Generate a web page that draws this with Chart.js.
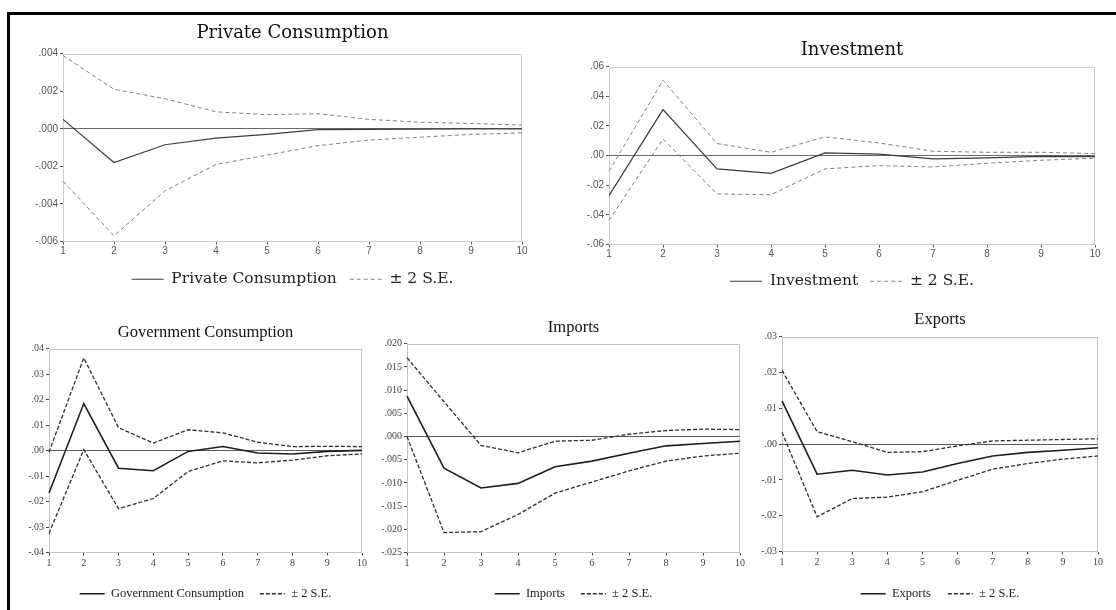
<!DOCTYPE html>
<html>
<head>
<meta charset="utf-8">
<title>Impulse responses</title>
<script src="https://cdn.jsdelivr.net/npm/chart.js@4.4.1/dist/chart.umd.min.js"></script>
<style>
  body { margin: 0; background: #fff; }
  #page { position: relative; width: 1116px; height: 610px; overflow: hidden; background: #fff; }
  #frame { position: absolute; left: 7px; top: 12px; right: 0; bottom: 0;
           border-top: 3px solid #000; border-left: 3px solid #000; }
  canvas { position: absolute; }
</style>
</head>
<body>
<div id="page">
  <div id="frame"></div>
  <canvas id="pc" width="528" height="281" style="left:12px;top:16px"></canvas>
  <canvas id="inv" width="556" height="269" style="left:560px;top:30px"></canvas>
  <canvas id="gov" width="364" height="300" style="left:12px;top:310px"></canvas>
  <canvas id="imp" width="380" height="304" style="left:376px;top:306px"></canvas>
  <canvas id="exp" width="360" height="310" style="left:756px;top:300px"></canvas>
</div>
<script>
const horizons = ['1', '2', '3', '4', '5', '6', '7', '8', '9', '10'];

// Private Consumption
const pcResponse = [0.0005, -0.0018, -0.00085, -0.0005, -0.0003, -0.00005, -0.00003, -0.00002, -0.00001, -0.00001];
const pcUpper = [0.0039, 0.0021, 0.0016, 0.0009, 0.00075, 0.0008, 0.0005, 0.00035, 0.00028, 0.0002];
const pcLower = [-0.0028, -0.0057, -0.0033, -0.0019, -0.0014, -0.0009, -0.0006, -0.00045, -0.0003, -0.00022];
const pcTicks = [-0.006, -0.004, -0.002, 0, 0.002, 0.004];

// Investment
const invResponse = [-0.027, 0.031, -0.009, -0.012, 0.0018, 0.001, -0.0023, -0.0016, -0.0005, -0.0007];
const invUpper = [-0.0106, 0.0508, 0.0081, 0.0022, 0.0126, 0.0085, 0.0029, 0.0022, 0.0022, 0.0013];
const invLower = [-0.0437, 0.0112, -0.0259, -0.0264, -0.009, -0.0068, -0.0077, -0.0052, -0.0032, -0.0018];
const invTicks = [-0.06, -0.04, -0.02, 0, 0.02, 0.04, 0.06];

// Government Consumption
const govResponse = [-0.0166, 0.0185, -0.0069, -0.0079, -0.0003, 0.0016, -0.0009, -0.0013, -0.0003, 0.0001];
const govUpper = [-0.0006, 0.0364, 0.009, 0.003, 0.0082, 0.007, 0.0033, 0.0016, 0.0017, 0.0016];
const govLower = [-0.0325, 0.0004, -0.0228, -0.0188, -0.0082, -0.004, -0.0048, -0.0037, -0.002, -0.0013];
const govTicks = [-0.04, -0.03, -0.02, -0.01, 0, 0.01, 0.02, 0.03, 0.04];

// Imports
const impResponse = [0.0087, -0.0068, -0.0111, -0.0101, -0.0065, -0.0053, -0.0036, -0.002, -0.0015, -0.001];
const impUpper = [0.017, 0.0075, -0.0019, -0.0035, -0.001, -0.0008, 0.0005, 0.0013, 0.0016, 0.0015];
const impLower = [0.0, -0.0207, -0.0205, -0.0168, -0.0122, -0.0098, -0.0074, -0.0053, -0.0042, -0.0036];
const impTicks = [-0.025, -0.02, -0.015, -0.01, -0.005, 0, 0.005, 0.01, 0.015, 0.02];

// Exports
const expResponse = [0.0121, -0.0084, -0.0073, -0.0086, -0.0078, -0.0054, -0.0033, -0.0023, -0.0017, -0.001];
const expUpper = [0.0206, 0.0035, 0.0007, -0.0023, -0.0021, -0.0005, 0.0009, 0.0011, 0.0013, 0.0015];
const expLower = [0.0033, -0.0203, -0.0152, -0.0148, -0.0133, -0.0101, -0.007, -0.0054, -0.0042, -0.0033];
const expTicks = [-0.03, -0.02, -0.01, 0, 0.01, 0.02, 0.03];

const topLook = {
    titleFont: { family: 'DejaVu Serif', size: 18 },
    legendFont: { family: 'DejaVu Serif', size: 15.5 },
    tickFont: { family: 'Liberation Sans', size: 10 },
    textColor: '#222',
    tickColor: '#555',
    lineColor: '#3c3c3c', lineWidth: 1.2,
    bandColor: '#808080', bandWidth: 1, bandDash: [4, 3],
    zeroColor: '#6a6a6a', frameColor: '#9a9a9a',
    sampleWidth: 32
};

const bottomLook = {
    titleFont: { family: 'Liberation Serif', size: 16.5 },
    legendFont: { family: 'Liberation Serif', size: 12.5 },
    tickFont: { family: 'Liberation Serif', size: 10 },
    textColor: '#222',
    tickColor: '#444',
    lineColor: '#1e1e1e', lineWidth: 1.6,
    bandColor: '#2e2e2e', bandWidth: 1.3, bandDash: [4, 2],
    zeroColor: '#5a5a5a', frameColor: '#8a8a8a',
    sampleWidth: 25
};

// dotted box round the plot area
const plotFrame = {
    id: 'plotFrame',
    beforeDatasetsDraw(chart, args, options) {
        const { ctx, chartArea: a } = chart;
        ctx.save();
        ctx.strokeStyle = options.color;
        ctx.lineWidth = 1;
        ctx.setLineDash([1, 1]);
        ctx.strokeRect(Math.round(a.left) + 0.5, Math.round(a.top) + 0.5,
            Math.round(a.width) - 1, Math.round(a.height) - 1);
        ctx.restore();
    }
};

function shortDecimal(v, d) {
    const s = Math.abs(v).toFixed(d).replace(/^0/, '');
    return (v < 0 ? '-' : '') + s;
}

function makePanel(id, p) {
    const look = p.look;
    new Chart(document.getElementById(id), {
        type: 'line',
        data: {
            labels: horizons,
            datasets: [
                { label: p.name, data: p.response, borderColor: look.lineColor, borderWidth: look.lineWidth },
                { label: '± 2 S.E.', data: p.upper, borderColor: look.bandColor, borderWidth: look.bandWidth, borderDash: look.bandDash },
                { label: '± 2 S.E.', data: p.lower, borderColor: look.bandColor, borderWidth: look.bandWidth, borderDash: look.bandDash }
            ]
        },
        options: {
            responsive: false,
            animation: false,
            elements: { point: { radius: 0 }, line: { tension: 0, fill: false } },
            layout: { padding: { left: 0, right: p.padRight, top: 0, bottom: 0 } },
            plugins: {
                tooltip: { enabled: false },
                plotFrame: { color: look.frameColor },
                title: {
                    display: true,
                    text: p.name,
                    fullSize: false,
                    color: '#111',
                    font: Object.assign({ weight: 'normal' }, look.titleFont),
                    padding: { top: p.titleTop, bottom: p.titleBottom }
                },
                legend: {
                    position: 'bottom',
                    fullSize: false,
                    labels: {
                        usePointStyle: true,
                        pointStyle: 'line',
                        pointStyleWidth: look.sampleWidth,
                        font: look.legendFont,
                        color: look.textColor,
                        padding: p.legendPad,
                        generateLabels(chart) {
                            return Chart.defaults.plugins.legend.labels.generateLabels(chart)
                                .filter(item => item.datasetIndex < 2)
                                .map(item => {
                                    const ds = chart.data.datasets[item.datasetIndex];
                                    return Object.assign(item, {
                                        lineDash: ds.borderDash || [],
                                        lineWidth: ds.borderWidth,
                                        strokeStyle: ds.borderColor
                                    });
                                });
                        }
                    }
                }
            },
            scales: {
                x: {
                    type: 'category',
                    offset: false,
                    border: { display: false },
                    grid: { color: 'transparent', tickColor: look.tickColor, tickLength: 3, offset: false },
                    ticks: { font: look.tickFont, color: look.tickColor, padding: p.xPad, maxRotation: 0, autoSkip: false }
                },
                y: {
                    min: p.ticks[0],
                    max: p.ticks[p.ticks.length - 1],
                    border: { display: false },
                    grid: {
                        color: ctx => (ctx.tick && Math.abs(ctx.tick.value) < 1e-12) ? look.zeroColor : 'transparent',
                        tickColor: look.tickColor,
                        tickLength: 3
                    },
                    ticks: {
                        font: look.tickFont,
                        color: look.tickColor,
                        padding: 2,
                        callback: value => shortDecimal(value, p.decimals)
                    },
                    afterBuildTicks: scale => { scale.ticks = p.ticks.map(v => ({ value: v })); },
                    afterFit: scale => { scale.width = p.yWidth; }
                }
            }
        },
        plugins: [plotFrame]
    });
}

makePanel('pc', {
    name: 'Private Consumption', look: topLook,
    response: pcResponse, upper: pcUpper, lower: pcLower, ticks: pcTicks, decimals: 3,
    yWidth: 51, padRight: 18, titleTop: 7, titleBottom: 9, xPad: 1, legendPad: 13
});

makePanel('inv', {
    name: 'Investment', look: topLook,
    response: invResponse, upper: invUpper, lower: invLower, ticks: invTicks, decimals: 2,
    yWidth: 49, padRight: 21, titleTop: 10, titleBottom: 5, xPad: 1, legendPad: 12
});

makePanel('gov', {
    name: 'Government Consumption', look: bottomLook,
    response: govResponse, upper: govUpper, lower: govLower, ticks: govTicks, decimals: 2,
    yWidth: 37, padRight: 14, titleTop: 13, titleBottom: 6, xPad: 2, legendPad: 16
});

makePanel('imp', {
    name: 'Imports', look: bottomLook,
    response: impResponse, upper: impUpper, lower: impLower, ticks: impTicks, decimals: 3,
    yWidth: 31, padRight: 16, titleTop: 12, titleBottom: 6, xPad: 2, legendPad: 16
});

makePanel('exp', {
    name: 'Exports', look: bottomLook,
    response: expResponse, upper: expUpper, lower: expLower, ticks: expTicks, decimals: 2,
    yWidth: 26, padRight: 18, titleTop: 10, titleBottom: 7, xPad: 2, legendPad: 17
});
</script>
</body>
</html>
